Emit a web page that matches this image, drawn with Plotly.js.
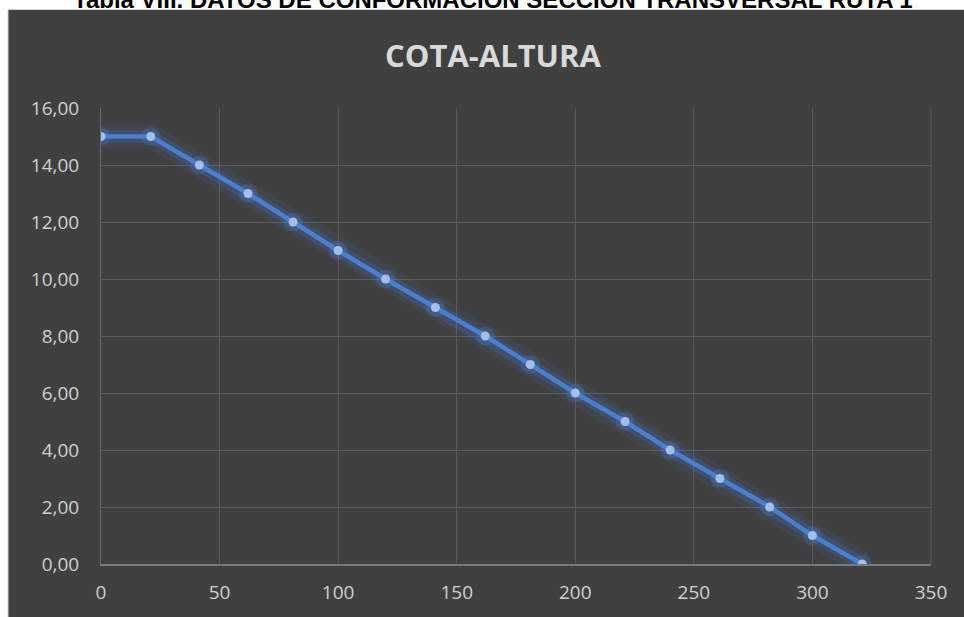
<!DOCTYPE html>
<html>
<head>
<meta charset="utf-8">
<script src="https://cdn.plot.ly/plotly-3.0.1.min.js"></script>
<style>
  html, body { margin: 0; padding: 0; background: #ffffff; }
  #chart { width: 964px; height: 617px; }
</style>
</head>
<body>
<div id="chart"></div>
<script>
// Data
const cota = [0, 21, 41.5, 62, 81, 100, 120, 141, 162, 181, 200, 221, 240, 261, 282, 300, 321];
const altura = [15, 15, 14, 13, 12, 11, 10, 9, 8, 7, 6, 5, 4, 3, 2, 1, 0];
const xTicks = [0, 50, 100, 150, 200, 250, 300, 350];
const yTicks = [0, 2, 4, 6, 8, 10, 12, 14, 16];
const chartTitle = 'COTA-ALTURA';
const captionText = 'Tabla VIII. DATOS DE CONFORMACIÓN SECCIÓN TRANSVERSAL RUTA 1';

// Pixel geometry of the figure
const W = 964, H = 617;
const M = { l: 101, r: 33, t: 108, b: 53 };
const pw = W - M.l - M.r, ph = H - M.t - M.b;
const px2x = p => (p - M.l) / pw;
const px2y = p => (H - M.b - p) / ph;

const blue = '#4a7fcf';
const traces = [
  { x: cota, y: altura, type: 'scatter', mode: 'lines', hoverinfo: 'skip',
    line: { color: 'rgba(70,120,210,0.10)', width: 24 } },
  { x: cota, y: altura, type: 'scatter', mode: 'lines+markers', hoverinfo: 'skip',
    line: { color: 'rgba(70,120,210,0.22)', width: 13 },
    marker: { size: 19, color: 'rgba(80,140,230,0.22)' } },
  { x: cota, y: altura, type: 'scatter', mode: 'lines+markers', name: chartTitle,
    line: { color: blue, width: 4.5 },
    marker: { size: 9, color: '#a3bfe9' } }
];

const tickFont = { family: 'Open Sans, sans-serif', size: 19, color: '#d0d0d0' };

const layout = {
  width: W, height: H,
  margin: M,
  paper_bgcolor: '#ffffff',
  plot_bgcolor: 'rgba(0,0,0,0)',
  showlegend: false,
  separators: ',.',
  xaxis: {
    range: [0, 350], tickvals: xTicks, ticktext: xTicks.map(String),
    showgrid: true, gridcolor: '#5a5a5a', gridwidth: 1,
    zeroline: false, showline: true, linecolor: '#7a7a7a', linewidth: 1.5,
    ticks: '', ticklabelstandoff: 11, tickfont: tickFont, fixedrange: true
  },
  yaxis: {
    range: [0, 16], tickvals: yTicks, tickformat: '.2f',
    showgrid: true, gridcolor: '#5a5a5a', gridwidth: 1,
    zeroline: false, showline: true, linecolor: '#6a6a6a', linewidth: 1,
    ticks: '', ticklabelstandoff: 17, tickfont: tickFont, fixedrange: true
  },
  shapes: [
    { type: 'rect', xref: 'paper', yref: 'paper', layer: 'below',
      x0: px2x(8), x1: px2x(966), y0: px2y(619), y1: px2y(9.5),
      fillcolor: '#404040', line: { color: '#d4d4d4', width: 1 } },
    { type: 'line', xref: 'paper', yref: 'paper', layer: 'below',
      x0: px2x(931), x1: px2x(931), y0: 0, y1: 1,
      line: { color: '#5a5a5a', width: 1 } }
  ],
  annotations: [
    { text: chartTitle, xref: 'paper', yref: 'paper', x: px2x(493), y: px2y(55),
      xanchor: 'center', yanchor: 'middle', showarrow: false,
      font: { family: 'Open Sans, sans-serif', size: 31, color: '#d9d9d9', weight: 'bold' } },
    { text: '<b>' + captionText + '</b>', xref: 'paper', yref: 'paper', x: px2x(493), y: px2y(0),
      xanchor: 'center', yanchor: 'middle', showarrow: false,
      font: { family: 'Liberation Sans, Arial, sans-serif', size: 24, color: '#000000' } }
  ]
};

Plotly.newPlot('chart', traces, layout, { displayModeBar: false, staticPlot: true });
</script>
</body>
</html>
